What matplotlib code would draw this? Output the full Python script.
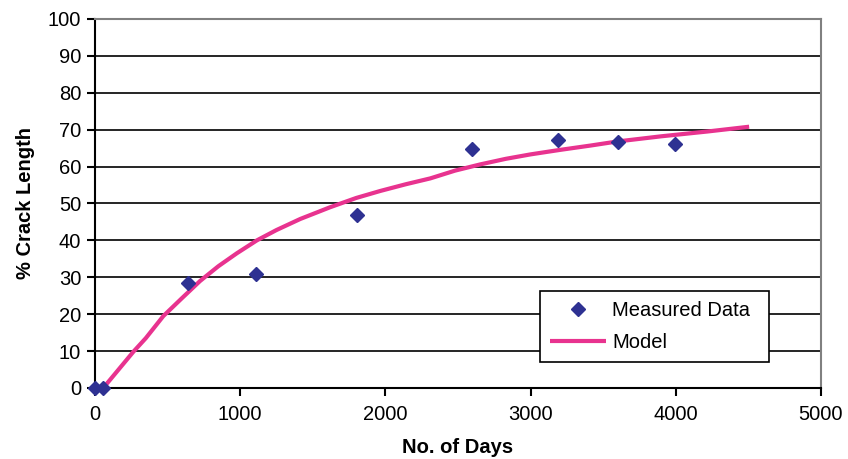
import matplotlib
matplotlib.use("Agg")
import matplotlib.pyplot as plt

plt.rcParams['font.family'] = ['Liberation Sans', 'DejaVu Sans']

# Measured crack length (%) vs. days in service
measured_days = [0, 53, 640, 1112, 1805, 2600, 3190, 3605, 3992]
measured_pct = [0, 0, 28.5, 30.8, 46.8, 64.7, 67.1, 66.7, 66.2]

# Model prediction
model_days = [57, 150, 264, 350, 471, 598, 724, 850, 977, 1115, 1250, 1414,
              1621, 1800, 1966, 2140, 2310, 2480, 2655, 2830, 3000, 3200,
              3414, 3598, 3900, 4218, 4506]
model_pct = [0, 4.4, 9.8, 13.5, 19.5, 24.3, 29.0, 33.0, 36.5, 40.0, 42.8, 45.8,
             49.0, 51.5, 53.4, 55.2, 56.8, 58.9, 60.6, 62.1, 63.3, 64.5,
             65.7, 66.8, 68.2, 69.5, 70.8]

x_ticks = [0, 1000, 2000, 3000, 4000, 5000]
y_ticks = list(range(0, 101, 10))

fig = plt.figure(figsize=(8.48, 4.59), dpi=100)
ax = fig.add_axes([0.112, 0.1547, 0.856, 0.804])

ax.set_xlim(0, 5000)
ax.set_ylim(0, 100)
ax.set_xticks(x_ticks)
ax.set_yticks(y_ticks)

for y in y_ticks[1:-1]:
    ax.axhline(y, color='black', lw=1.2, zorder=1)

ax.plot(model_days, model_pct, color='#e8338f', lw=3.0, label='Model',
        zorder=3, solid_capstyle='butt')
ax.plot(measured_days, measured_pct, linestyle='none', marker='D', ms=7.5,
        color='#2e3192', label='Measured Data', zorder=4, clip_on=False)

for s in ('left', 'bottom'):
    ax.spines[s].set_color('black')
    ax.spines[s].set_linewidth(1.5)
for s in ('top', 'right'):
    ax.spines[s].set_color('#808080')
    ax.spines[s].set_linewidth(1.5)

ax.tick_params(axis='both', direction='out', length=6, width=1.5,
               labelsize=14.5, colors='black')
ax.tick_params(axis='x', pad=6)
ax.tick_params(axis='y', pad=4)

ax.set_xlabel('No. of Days', fontsize=14.5, fontweight='bold', labelpad=10)
ax.set_ylabel('% Crack Length', fontsize=14.5, fontweight='bold', labelpad=9)

handles, labels = ax.get_legend_handles_labels()
leg = ax.legend(handles[::-1], labels[::-1], loc='lower left',
                bbox_to_anchor=(0.613, 0.0705, 0.315, 0.195), mode='expand',
                fontsize=14.5, frameon=True, fancybox=False, borderpad=0.5,
                handlelength=2.8, handletextpad=0.3, labelspacing=0.65,
                borderaxespad=0)
leg.get_frame().set_edgecolor('black')
leg.get_frame().set_linewidth(1.2)
leg.get_frame().set_facecolor('white')
leg.get_frame().set_alpha(1)

fig.savefig('out.png', dpi=100, facecolor='white')
